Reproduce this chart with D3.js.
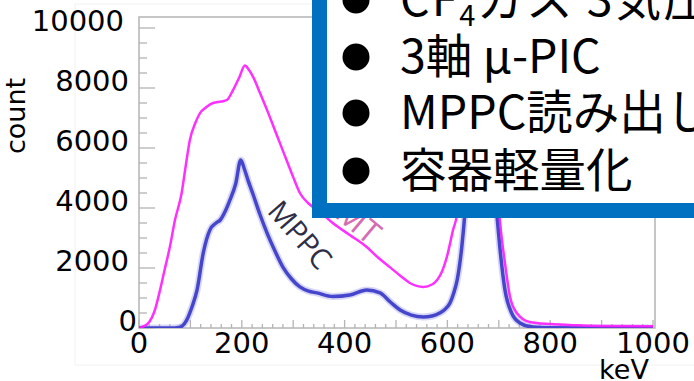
<!DOCTYPE html>
<html>
<head>
<meta charset="utf-8">
<script src="https://cdn.jsdelivr.net/npm/d3@7"></script>
<style>
  html, body { margin: 0; padding: 0; background: #fff; }
  svg { display: block; }
</style>
</head>
<body>
<div id="chart"></div>
<script>
// spectra (keV, count)
const pmtKeV   = [0, 10, 20, 30, 41, 50, 60, 70, 83, 90, 99, 110, 119, 130, 144, 160, 171, 183, 195, 206, 214, 222, 235, 249, 262, 274, 287, 300, 313, 330, 350, 377, 410, 443, 465, 488, 510, 527, 553, 570, 580, 590, 599, 611, 619, 630, 645, 662, 680, 692, 702, 712, 722, 735, 760, 800, 850, 900, 1000];
const pmtCount = [0, 60, 200, 550, 1270, 1950, 2700, 3600, 4500, 5300, 6270, 6850, 7170, 7350, 7500, 7550, 7600, 7930, 8350, 8750, 8600, 8370, 7850, 7270, 6700, 6170, 5600, 5030, 4500, 4150, 3900, 3500, 3100, 2700, 2350, 2030, 1720, 1500, 1370, 1450, 1600, 1900, 2370, 3270, 3830, 6500, 10000, 11500, 10000, 6000, 3600, 2170, 1030, 500, 200, 130, 90, 70, 60];

const mppcKeV   = [0, 60, 80, 93, 103, 113, 125, 138, 150, 158, 168, 177, 188, 198, 205, 212, 222, 235, 249, 265, 280, 296, 313, 330, 346, 377, 410, 443, 469, 490, 508, 530, 553, 570, 585, 595, 605, 612, 619, 628, 634, 645, 662, 680, 690, 696, 702, 712, 725, 741, 767, 800, 1000];
const mppcCount = [0, 0, 30, 270, 700, 1270, 2500, 3270, 3500, 3600, 3900, 4270, 4800, 5600, 5300, 4930, 4450, 3800, 3170, 2550, 2030, 1650, 1370, 1230, 1170, 1050, 1100, 1270, 1170, 850, 600, 430, 370, 400, 500, 620, 830, 1150, 1600, 2700, 3830, 7000, 8500, 7000, 5000, 3830, 2700, 1270, 500, 170, 30, 10, 0];

const xTickLabels = [0, 200, 400, 600, 800, 1000];
const yTickLabels = [0, 2000, 4000, 6000, 8000, 10000];

const bulletLines = [
  [{t: "CF"}, {t: "4", sub: true}, {t: "ガス 3気圧"}],
  [{t: "3軸 μ-PIC"}],
  [{t: "MPPC読み出し"}],
  [{t: "容器軽量化"}]
];

const width = 694, height = 381;
const plot = { left: 139, right: 655, top: 17, bottom: 328 };

const svg = d3.select("#chart")
  .append("svg")
    .attr("width", width)
    .attr("height", height);

const x = d3.scaleLinear().domain([0, 1000]).range([plot.left, 653]);
const y = d3.scaleLinear().domain([0, 10000]).range([plot.bottom, 28]);

// faint outer frame of the pasted figure
svg.append("rect")
  .attr("x", 75).attr("y", 4)
  .attr("width", 640).attr("height", 361)
  .attr("fill", "none")
  .attr("stroke", "#f2f2f2");

svg.append("clipPath").attr("id", "plotclip")
  .append("rect")
    .attr("x", plot.left).attr("y", plot.top)
    .attr("width", plot.right - plot.left)
    .attr("height", plot.bottom - plot.top);

const frameColor = "#b4b4b4";

// frame
svg.append("rect")
  .attr("x", plot.left).attr("y", plot.top)
  .attr("width", plot.right - plot.left)
  .attr("height", plot.bottom - plot.top)
  .attr("fill", "none")
  .attr("stroke", frameColor)
  .attr("stroke-width", 1.5);

// y ticks (inside, pointing right)
svg.append("g").selectAll("line")
  .data(d3.range(0, 10001, 500))
  .enter().append("line")
    .attr("x1", plot.left)
    .attr("x2", d => plot.left + (d % 2000 === 0 ? 16 : 8))
    .attr("y1", d => y(d)).attr("y2", d => y(d))
    .attr("stroke", frameColor)
    .attr("stroke-width", 1.3);

// x ticks (inside, pointing up)
svg.append("g").selectAll("line")
  .data(d3.range(0, 1001, 20))
  .enter().append("line")
    .attr("x1", d => x(d)).attr("x2", d => x(d))
    .attr("y1", plot.bottom)
    .attr("y2", d => plot.bottom - (d % 100 === 0 ? 8 : 4))
    .attr("stroke", frameColor)
    .attr("stroke-width", 1.3);

const numFont = "'DejaVu Sans', sans-serif";

svg.append("g").selectAll("text")
  .data(yTickLabels)
  .enter().append("text")
    .attr("x", d => d === 0 ? 137 : (d === 10000 ? 124 : 129))
    .attr("y", d => y(d) + 3)
    .attr("text-anchor", "end")
    .attr("font-family", numFont)
    .attr("font-size", 29)
    .attr("fill", "#000")
    .text(d => d);

svg.append("g").selectAll("text")
  .data(xTickLabels)
  .enter().append("text")
    .attr("x", d => x(d))
    .attr("y", 353)
    .attr("text-anchor", "middle")
    .attr("font-family", numFont)
    .attr("font-size", 29)
    .attr("fill", "#000")
    .text(d => d);

svg.append("text")
  .attr("x", 624).attr("y", 379)
  .attr("text-anchor", "middle")
  .attr("font-family", numFont)
  .attr("font-size", 27)
  .text("keV");

svg.append("text")
  .attr("transform", "translate(25,116) rotate(-90)")
  .attr("text-anchor", "middle")
  .attr("font-family", numFont)
  .attr("font-size", 27)
  .text("count");

// spectra
const line = d3.line()
  .x(d => x(d[0]))
  .y(d => y(d[1]))
  .curve(d3.curveMonotoneX);

const curves = svg.append("g").attr("clip-path", "url(#plotclip)");

const mppcData = d3.zip(mppcKeV, mppcCount);
const pmtData  = d3.zip(pmtKeV, pmtCount);

curves.append("path")
  .attr("d", line(mppcData))
  .attr("fill", "none")
  .attr("stroke", "#a8a8ec")
  .attr("stroke-width", 7)
  .attr("stroke-opacity", 0.45);

curves.append("path")
  .attr("d", line(mppcData))
  .attr("fill", "none")
  .attr("stroke", "#4646cc")
  .attr("stroke-width", 3.5);

curves.append("path")
  .attr("d", line(pmtData))
  .attr("fill", "none")
  .attr("stroke", "#ff1aff")
  .attr("stroke-width", 2.5)
  .attr("stroke-opacity", 0.9);

// labels on the curves
svg.append("text")
  .attr("transform", "translate(300,235) rotate(49)")
  .attr("text-anchor", "middle")
  .attr("dy", "0.35em")
  .attr("font-family", "'Open Sans', sans-serif")
  .attr("font-size", 29)
  .attr("fill", "#2e2e46")
  .text("MPPC");

svg.append("text")
  .attr("transform", "translate(366,228) rotate(40)")
  .attr("text-anchor", "end")
  .attr("x", 14).attr("y", 12)
  .attr("font-family", "'Open Sans', sans-serif")
  .attr("font-size", 32)
  .attr("fill", "#d46cb4")
  .text("PMT");

// blue box with bullet list
const box = svg.append("g");
box.append("rect")
  .attr("x", 319.5).attr("y", -30)
  .attr("width", 420).attr("height", 240.5)
  .attr("fill", "#fff")
  .attr("stroke", "#0070c0")
  .attr("stroke-width", 15);

const baselines = [16, 73, 129, 187];

box.selectAll("circle")
  .data(baselines)
  .enter().append("circle")
    .attr("cx", 356)
    .attr("cy", d => d - 16)
    .attr("r", 13.5)
    .attr("fill", "#000");

const listText = box.selectAll("text.item")
  .data(bulletLines)
  .enter().append("text")
    .attr("class", "item")
    .attr("x", 400)
    .attr("y", (d, i) => baselines[i])
    .attr("font-family", "'Noto Sans CJK JP', 'Noto Sans', sans-serif")
    .attr("font-size", 46.5)
    .attr("letter-spacing", (d, i) => i === 0 ? 2 : 0)
    .attr("fill", "#000");

listText.selectAll("tspan")
  .data(d => d)
  .enter().append("tspan")
    .attr("font-size", d => d.sub ? 29 : null)
    .attr("dy", (d, i, nodes) => d.sub ? 10 : (i > 0 && nodes[i - 1].__data__.sub ? -10 : null))
    .text(d => d.t);
</script>
</body>
</html>
